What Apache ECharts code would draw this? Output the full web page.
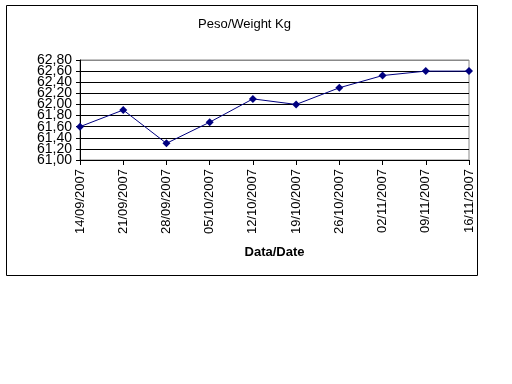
<!DOCTYPE html>
<html><head><meta charset="utf-8">
<script src="https://cdn.jsdelivr.net/npm/echarts@6/dist/echarts.min.js"></script>
<style>html,body{margin:0;padding:0;background:#fff}#c{width:512px;height:384px}</style>
</head><body><div id="c"></div>
<script>
const categories = ["14/09/2007","21/09/2007","28/09/2007","05/10/2007","12/10/2007","19/10/2007","26/10/2007","02/11/2007","09/11/2007","16/11/2007"];
const weights = [61.60, 61.90, 61.30, 61.68, 62.10, 62.00, 62.30, 62.52, 62.60, 62.60];
const yMin = 61.0, yMax = 62.8, yStep = 0.2;
const titleText = "Peso/Weight Kg";
const xName = "Data/Date";

const font = "Liberation Sans, Arial, sans-serif";
const fmt = v => v.toFixed(2).replace('.', ',');
const isEnd = v => Math.abs(v - yMin) < 1e-6 || Math.abs(v - yMax) < 1e-6;
const chart = echarts.init(document.getElementById('c'), null, {renderer:'canvas'});
const gridColors = [];
for (let i = 0; i < 9; i++) gridColors.push('#000');
gridColors.push('#888');
const labelBase = {margin: 8, fontFamily: font, fontSize: 14, color: '#000', hideOverlap: false};
chart.setOption({
  animation: false,
  backgroundColor: '#fff',
  title: {text: titleText, left: 193, top: 13, textStyle: {fontFamily: font, fontSize: 13, fontWeight: 'normal', color: '#000'}},
  grid: {left: 80, right: 43, top: 60, bottom: 224, show: true, borderColor: '#888', borderWidth: 1},
  xAxis: {
    type: 'category', data: categories, boundaryGap: false,
    name: xName, nameLocation: 'middle', nameGap: 86,
    nameTextStyle: {fontFamily: font, fontSize: 13, fontWeight: 'bold', color: '#000'},
    axisLine: {lineStyle: {color: '#000', width: 1}},
    axisTick: {show: true, length: 5, alignWithLabel: true, lineStyle: {color: '#000'}},
    axisLabel: {rotate: 90, interval: 0, margin: 9, fontFamily: font, fontSize: 13, color: '#000'},
    splitLine: {show: false}
  },
  yAxis: [{
    type: 'value', min: yMin, max: yMax, interval: yStep, position: 'left',
    axisLine: {show: true, lineStyle: {color: '#000', width: 1}},
    axisTick: {show: true, length: 4, lineStyle: {color: '#000'}},
    axisLabel: Object.assign({}, labelBase, {showMinLabel: true, showMaxLabel: true,
      formatter: v => isEnd(v) ? fmt(v) : ''}),
    splitLine: {show: true, lineStyle: {color: gridColors, width: 1}}
  }, {
    type: 'value', min: yMin, max: yMax, interval: yStep, position: 'left', offset: 0,
    axisLine: {show: false}, axisTick: {show: false}, splitLine: {show: false},
    axisLabel: Object.assign({}, labelBase, {showMinLabel: false, showMaxLabel: false,
      formatter: v => isEnd(v) ? '' : fmt(v)})
  }],
  series: [{
    type: 'line', data: weights, symbol: 'diamond', symbolSize: 8, yAxisIndex: 0,
    lineStyle: {color: '#000080', width: 1}, itemStyle: {color: '#000080'}
  }],
  graphic: [{type: 'rect', shape: {x: 6.5, y: 5.5, width: 471, height: 270}, style: {fill: 'none', stroke: '#000', lineWidth: 1}, silent: true}]
});
</script></body></html>
